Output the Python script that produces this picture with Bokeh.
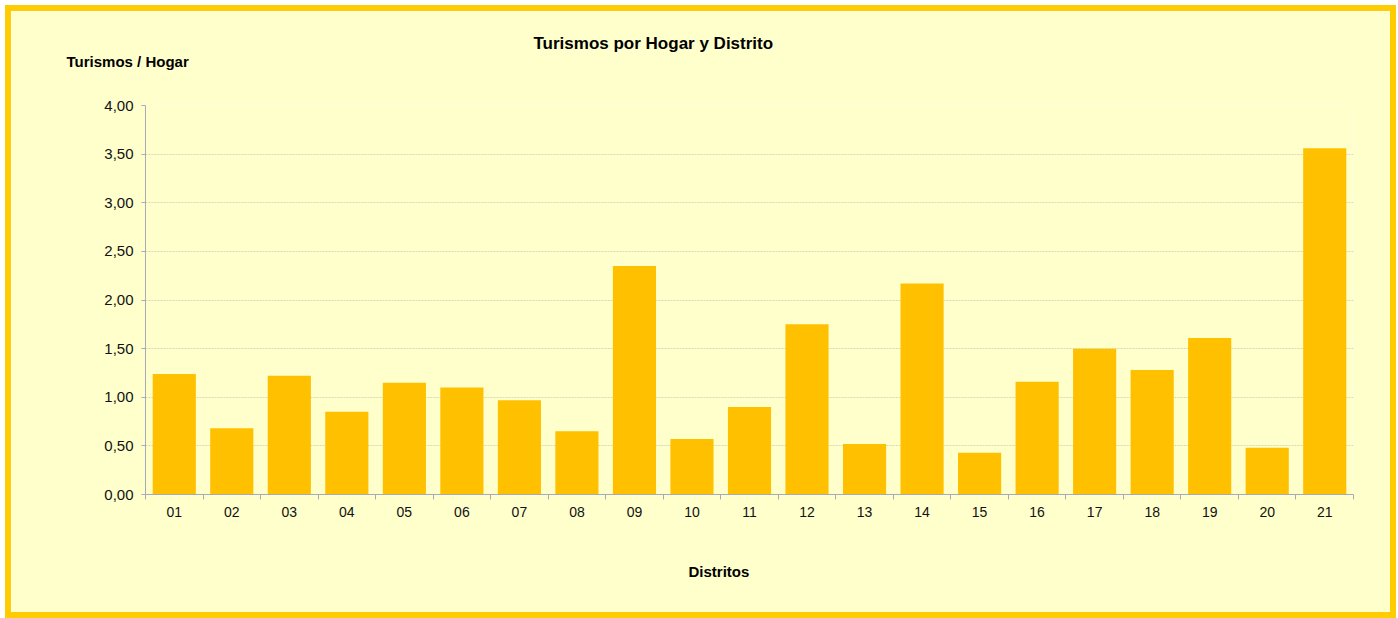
from bokeh.plotting import figure
from bokeh.models import FixedTicker, Title, ColumnDataSource
from bokeh.embed import file_html
from bokeh.resources import INLINE

districts = ["01", "02", "03", "04", "05", "06", "07", "08", "09", "10", "11",
             "12", "13", "14", "15", "16", "17", "18", "19", "20", "21"]
values = [1.24, 0.68, 1.22, 0.85, 1.15, 1.10, 0.97, 0.65, 2.35, 0.57, 0.90,
          1.75, 0.52, 2.17, 0.43, 1.16, 1.50, 1.28, 1.61, 0.48, 3.56]
y_ticks = [0.0, 0.5, 1.0, 1.5, 2.0, 2.5, 3.0, 3.5, 4.0]
title_text = "Turismos por Hogar y Distrito"
y_title = "Turismos / Hogar"
x_title = "Distritos"

FONT = "Liberation Sans"
BG = "#FFFFCC"
BAR = "#FFC000"
FRAME = "#FFCC00"
AXIS = "#A9A9BC"

n = len(districts)
xs = [i + 0.5 for i in range(n)]
src = ColumnDataSource(dict(x=xs, top=values, name=districts))

p = figure(width=1379, height=601, output_backend="svg", toolbar_location=None,
           x_range=(0, n), y_range=(0, 4.0),
           min_border_left=134, min_border_right=49, min_border_top=94, min_border_bottom=130)
p.styles = {"border": "6px solid " + FRAME, "box-sizing": "content-box",
            "margin": "5px 0 0 5px"}
p.background_fill_color = BG
p.border_fill_color = BG
p.outline_line_color = None

p.vbar(x="x", top="top", width=0.75, bottom=0, source=src, fill_color=BAR, line_color=None)

# x axis
p.xaxis.ticker = FixedTicker(ticks=xs, minor_ticks=list(range(n + 1)))
p.xaxis.major_label_overrides = {x: d for x, d in zip(xs, districts)}
p.xaxis.major_tick_out = 0
p.xaxis.major_tick_in = 0
p.xaxis.minor_tick_out = 5
p.xaxis.minor_tick_in = 0
p.xaxis.minor_tick_line_color = AXIS
p.xaxis.axis_line_color = AXIS
p.xaxis.major_label_standoff = 7
p.xaxis.major_label_text_font_size = "14px"
p.xgrid.visible = False

# y axis
p.yaxis.ticker = FixedTicker(ticks=y_ticks, minor_ticks=[])
p.yaxis.major_label_overrides = {t: ("%.2f" % t).replace(".", ",") for t in y_ticks}
p.yaxis.major_tick_out = 4
p.yaxis.major_tick_in = 0
p.yaxis.minor_tick_out = 0
p.yaxis.minor_tick_in = 0
p.yaxis.major_tick_line_color = AXIS
p.yaxis.axis_line_color = AXIS
p.yaxis.major_label_standoff = 8
p.yaxis.major_label_text_font_size = "15px"
p.ygrid.grid_line_color = "#D8D8B8"
p.ygrid.grid_line_dash = "2 1"

for ax in (p.xaxis, p.yaxis):
    ax.major_label_text_font = FONT
    ax.major_label_text_color = "#111111"

# main title (outer panel)
p.title.text = title_text
p.title.align = "left"
p.title.offset = 388
p.title.standoff = -74
p.title.text_font = FONT
p.title.text_font_size = "17px"
p.title.text_font_style = "bold"
p.title.text_color = "#000000"

# y-axis title (panel closest to the frame)
p.add_layout(Title(text=y_title, align="left", offset=-79, standoff=71,
                   text_font=FONT, text_font_size="15px", text_font_style="bold",
                   text_color="#000000"), "above")

# x-axis title
p.add_layout(Title(text=x_title, align="left", offset=543, standoff=82,
                   text_font=FONT, text_font_size="15px", text_font_style="bold",
                   text_color="#000000"), "below")

open("out.html", "w").write(file_html(p, INLINE))
